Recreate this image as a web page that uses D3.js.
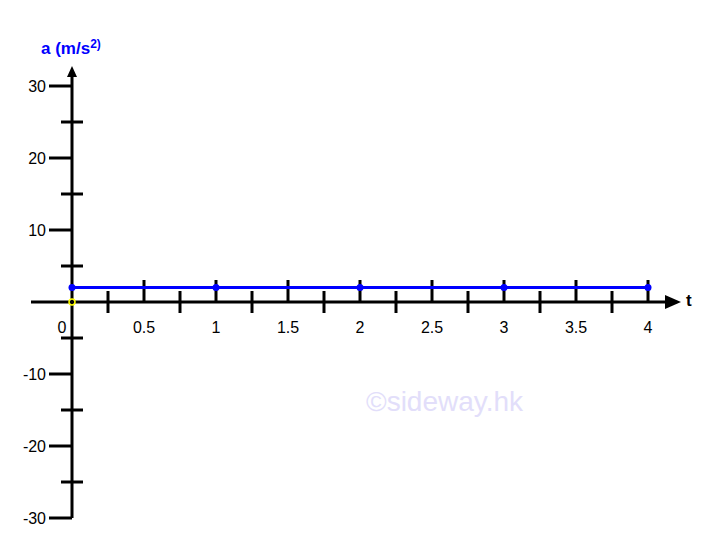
<!DOCTYPE html>
<html><head><meta charset="utf-8">
<script src="https://cdn.jsdelivr.net/npm/d3@7"></script>
<style>body{margin:0;background:#fff}svg{display:block}</style>
</head><body>
<script>
const tValues = [0, 1, 2, 3, 4];
const aValues = [2, 2, 2, 2, 2];
const xMajorTicks = [0.5, 1, 1.5, 2, 2.5, 3, 3.5, 4];
const xMinorTicks = [0.25, 0.75, 1.25, 1.75, 2.25, 2.75, 3.25, 3.75];
const xTickLabels = ["0", "0.5", "1", "1.5", "2", "2.5", "3", "3.5", "4"];
const xLabelValues = [0, 0.5, 1, 1.5, 2, 2.5, 3, 3.5, 4];
const yMajorTicks = [30, 20, 10, -10, -20, -30];
const yMinorTicks = [25, 15, 5, -5, -15, -25];
const yTickLabels = ["30", "20", "10", "-10", "-20", "-30"];

const W = 721, H = 538;
const svg = d3.select("body").append("svg").attr("width", W).attr("height", H);
const x = d3.scaleLinear().domain([0, 4]).range([72, 648]);
const y = d3.scaleLinear().domain([-30, 30]).range([518, 86]);
const font = "'Liberation Sans', Arial, sans-serif";

// watermark
svg.append("text").attr("x", 366).attr("y", 411).attr("font-family", font)
  .attr("font-size", 28).attr("fill", "#e2defa").text("©sideway.hk");

const ax = svg.append("g").attr("stroke", "#000").attr("stroke-width", 3);
// y axis line
ax.append("line").attr("x1", x(0)).attr("x2", x(0)).attr("y1", 74).attr("y2", y(-30));
// x axis line
ax.append("line").attr("x1", 31).attr("x2", 668).attr("y1", y(0)).attr("y2", y(0));
// arrows
svg.append("path").attr("d", `M${x(0)},66 L${x(0)-5},77 L${x(0)+5},77 Z`).attr("fill", "#000");
svg.append("path").attr("d", `M681,${y(0)} L665,${y(0)-7} L665,${y(0)+7} Z`).attr("fill", "#000");

// y ticks
ax.selectAll(".ymaj").data(yMajorTicks).join("line")
  .attr("x1", x(0) - 23).attr("x2", x(0)).attr("y1", d => y(d)).attr("y2", d => y(d));
ax.selectAll(".ymin").data(yMinorTicks).join("line")
  .attr("x1", x(0) - 11).attr("x2", x(0) + 11).attr("y1", d => y(d)).attr("y2", d => y(d));
// x ticks
ax.selectAll(".xmaj").data(xMajorTicks).join("line")
  .attr("x1", d => x(d)).attr("x2", d => x(d)).attr("y1", y(0) - 22).attr("y2", y(0));
ax.selectAll(".xmin").data(xMinorTicks).join("line")
  .attr("x1", d => x(d)).attr("x2", d => x(d)).attr("y1", y(0) - 11).attr("y2", y(0) + 11);

// y labels
svg.selectAll(".ylab").data(yMajorTicks).join("text")
  .attr("x", 46).attr("y", d => y(d) + 6).attr("text-anchor", "end")
  .attr("font-family", font).attr("font-size", 16).attr("fill", "#000")
  .text((d, i) => yTickLabels[i]);
// x labels
svg.selectAll(".xlab").data(xLabelValues).join("text")
  .attr("x", d => d === 0 ? x(d) - 10 : x(d)).attr("y", 333).attr("text-anchor", "middle")
  .attr("font-family", font).attr("font-size", 16).attr("fill", "#000")
  .text((d, i) => xTickLabels[i]);

// axis titles
svg.append("text").attr("x", 686).attr("y", 306).attr("font-family", font)
  .attr("font-size", 17).attr("font-weight", "bold").attr("fill", "#000").text("t");
const at = svg.append("text").attr("x", 41).attr("y", 54).attr("font-family", font)
  .attr("font-size", 17).attr("font-weight", "bold").attr("fill", "#0000ff");
at.append("tspan").text("a (m/s");
at.append("tspan").attr("font-size", 12).attr("dy", -6).text("2)");

// data line
const line = d3.line().x((d, i) => x(tValues[i])).y(d => y(d));
svg.append("path").datum(aValues).attr("d", line).attr("fill", "none")
  .attr("stroke", "#0000ff").attr("stroke-width", 3);
svg.selectAll(".pt").data(aValues).join("circle")
  .attr("cx", (d, i) => x(tValues[i])).attr("cy", d => y(d)).attr("r", 3.5).attr("fill", "#0000ff");
// origin marker
svg.append("circle").attr("cx", x(0)).attr("cy", y(0)).attr("r", 3)
  .attr("fill", "none").attr("stroke", "#ffff00").attr("stroke-width", 1.5);
</script>
</body></html>
